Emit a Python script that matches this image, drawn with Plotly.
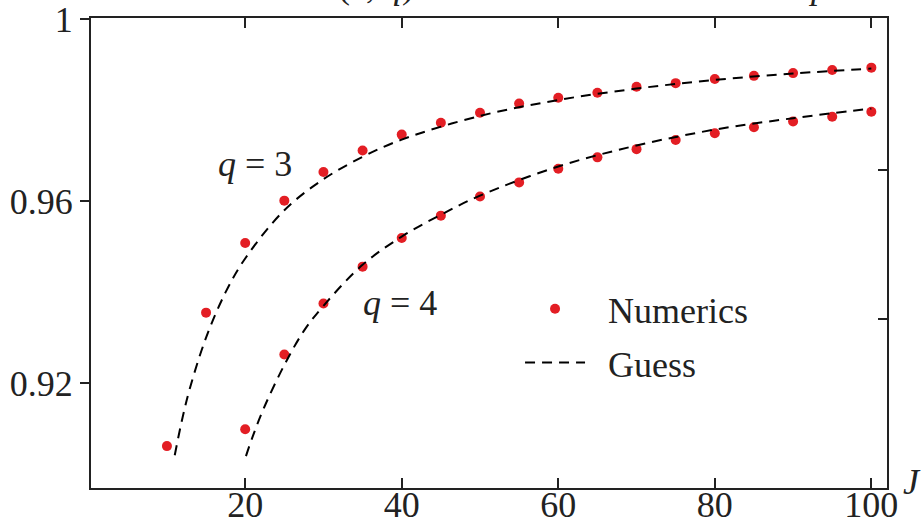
import plotly.graph_objects as go

# ---- data ----
J_num_q3 = [10, 15, 20, 25, 30, 35, 40, 45, 50, 55, 60, 65, 70, 75, 80, 85, 90, 95, 100]
num_q3 = [0.9062, 0.9355, 0.9508, 0.9601, 0.9664, 0.9711, 0.9746, 0.9772, 0.9794, 0.9814,
          0.9827, 0.9838, 0.9851, 0.9859, 0.9868, 0.9875, 0.9881, 0.9888, 0.9893]

J_num_q4 = [20, 25, 30, 35, 40, 45, 50, 55, 60, 65, 70, 75, 80, 85, 90, 95, 100]
num_q4 = [0.9099, 0.9263, 0.9375, 0.9456, 0.9519, 0.9568, 0.9610, 0.9641, 0.9671, 0.9696,
          0.9714, 0.9734, 0.9749, 0.9762, 0.9775, 0.9785, 0.9796]

J_guess_q3 = [11, 12, 13, 15, 17.5, 20, 25, 30, 35, 40, 50, 60, 70, 80, 90, 100]
guess_q3 = [0.9042, 0.9125, 0.9193, 0.9300, 0.9400, 0.9474, 0.9580, 0.9648, 0.9697, 0.9735,
            0.9787, 0.9822, 0.9847, 0.9866, 0.9880, 0.9891]

J_guess_q4 = [20.1, 21, 22.5, 25, 27.5, 30, 35, 40, 45, 50, 60, 70, 80, 90, 100]
guess_q4 = [0.9040, 0.9085, 0.9150, 0.9240, 0.9315, 0.9370, 0.9460, 0.9522, 0.9570, 0.9612,
            0.9676, 0.9722, 0.9757, 0.9782, 0.9803]

x_ticks = [20, 40, 60, 80, 100]
y_ticks = [0.92, 0.96, 1.0]
y_tick_labels = ["0.92", "0.96", "1"]
right_ticks = [0.9342, 0.9669]

RED = "#e31e24"
FONT = "Liberation Serif"
FS = 36

fig = go.Figure()
dash_line = dict(color="black", width=2, dash="10px,7px")

fig.add_trace(go.Scatter(x=J_num_q3, y=num_q3, mode="markers", marker=dict(color=RED, size=10),
                         name="\u2002Numerics", legendgroup="num", showlegend=True))
fig.add_trace(go.Scatter(x=J_num_q4, y=num_q4, mode="markers", marker=dict(color=RED, size=10),
                         name="\u2002Numerics", legendgroup="num", showlegend=False))
fig.add_trace(go.Scatter(x=J_guess_q3, y=guess_q3, mode="lines", line=dict(shape="spline", **dash_line),
                         name="\u2002Guess", legendgroup="guess", showlegend=True))
fig.add_trace(go.Scatter(x=J_guess_q4, y=guess_q4, mode="lines", line=dict(shape="spline", **dash_line),
                         name="\u2002Guess", legendgroup="guess", showlegend=False))
# invisible trace for the right-hand ticks
fig.add_trace(go.Scatter(x=[50], y=[0.95], yaxis="y2", mode="markers",
                         marker=dict(opacity=0), showlegend=False, hoverinfo="skip"))

fig.update_layout(
    width=923, height=530,
    margin=dict(l=91, r=36, t=18, b=42, autoexpand=False),
    plot_bgcolor="white", paper_bgcolor="white",
    font=dict(family=FONT, size=FS, color="#222"),
    xaxis=dict(range=[0.3, 102], tickvals=x_ticks, ticks="inside", ticklen=10, tickwidth=2,
               tickcolor="#222", showline=True, linecolor="#222", linewidth=2, mirror="ticks",
               showgrid=False, zeroline=False, tickfont=dict(size=FS), automargin=False,
               ticklabelstandoff=-16, ticklabeloverflow="allow"),
    yaxis=dict(range=[0.897, 1.0002], tickvals=y_ticks, ticktext=y_tick_labels, ticks="outside",
               ticklen=9, tickwidth=2, tickcolor="#222", showline=True, linecolor="#222",
               linewidth=2, mirror=True, showgrid=False, zeroline=False, tickfont=dict(size=FS),
               automargin=False, ticklabeloverflow="allow"),
    yaxis2=dict(range=[0.897, 1.0002], overlaying="y", side="right", tickvals=right_ticks,
                ticks="inside", ticklen=9, tickwidth=2, tickcolor="#222", showticklabels=False,
                showline=False, showgrid=False, zeroline=False, automargin=False),
    legend=dict(x=0.539, y=0.445, xanchor="left", yanchor="top", bgcolor="rgba(0,0,0,0)",
                font=dict(size=FS), itemwidth=60, tracegroupgap=4),
    showlegend=True,
)

fig.add_annotation(x=21.3, y=0.9682, text="<i>q</i> = 3", showarrow=False, font=dict(size=FS))
fig.add_annotation(x=39.8, y=0.9377, text="<i>q</i> = 4", showarrow=False, font=dict(size=FS))
fig.add_annotation(xref="paper", yref="paper", x=1.0, xshift=36, y=0.0, yshift=6,
                   xanchor="right", yanchor="middle",
                   text="<i>J</i>", showarrow=False, font=dict(size=FS))
fig.add_annotation(xref="paper", yref="paper", x=0.358, y=1.021, xanchor="center", yanchor="bottom",
                   text="(<i>J</i>, <i>q</i>)", showarrow=False, font=dict(size=FS))
fig.add_annotation(xref="paper", yref="paper", x=0.914, y=1.021, xanchor="center", yanchor="bottom",
                   text="<i>p</i>", showarrow=False, font=dict(size=FS))

fig.write_html("out.html", config={"displayModeBar": False},
               post_script="document.body.style.margin='0';document.body.style.overflow='hidden';")
